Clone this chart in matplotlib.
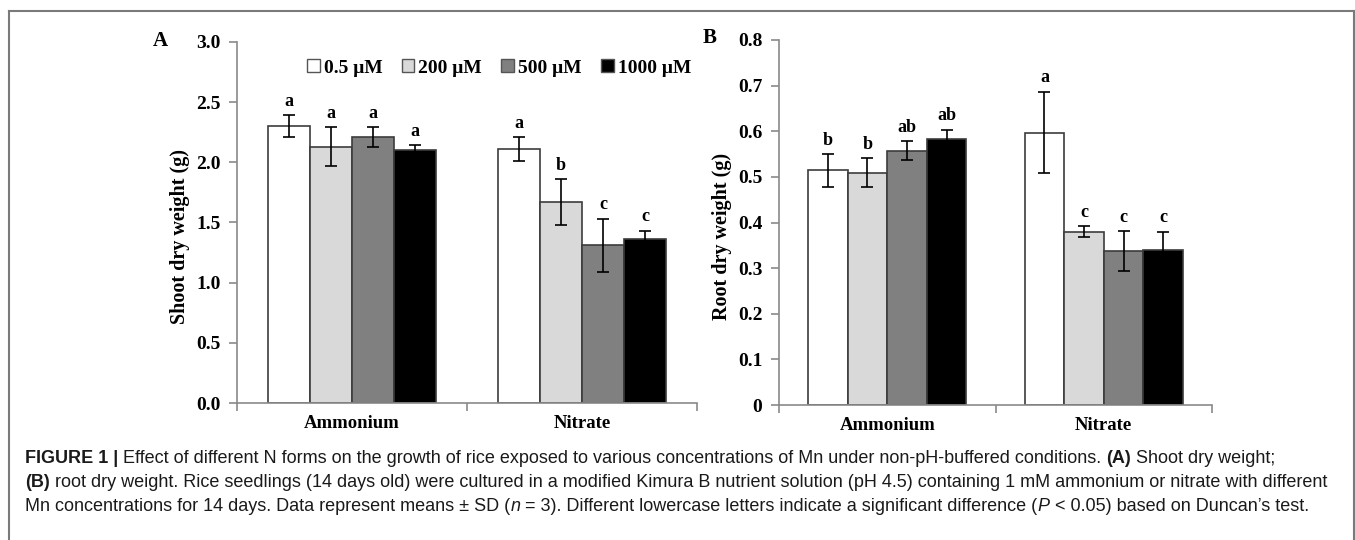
import matplotlib
matplotlib.use("Agg")
import matplotlib.pyplot as plt
from matplotlib.patches import Patch
from matplotlib.lines import Line2D
from matplotlib.font_manager import FontProperties
import numpy as np

W, H = 1355, 540
plt.rcParams.update({"font.family": "Liberation Serif", "font.weight": "bold",
                     "axes.linewidth": 1.2})

groups = ["Ammonium", "Nitrate"]
mn_levels = ["0.5 μM", "200 μM", "500 μM", "1000 μM"]
bar_colors = ["#ffffff", "#d9d9d9", "#808080", "#000000"]

# shoot dry weight (g), per Mn level, [ammonium, nitrate]
shoot_mean = [[2.30, 2.11], [2.13, 1.67], [2.21, 1.31], [2.10, 1.36]]
shoot_sd = [[0.09, 0.10], [0.16, 0.19], [0.08, 0.22], [0.04, 0.07]]
shoot_let = [["a", "a"], ["a", "b"], ["a", "c"], ["a", "c"]]

# root dry weight (g)
root_mean = [[0.514, 0.597], [0.509, 0.380], [0.557, 0.337], [0.583, 0.340]]
root_sd = [[0.036, 0.089], [0.032, 0.012], [0.021, 0.044], [0.020, 0.040]]
root_let = [["b", "a"], ["b", "c"], ["ab", "c"], ["ab", "c"]]

shoot_ticks = [0.0, 0.5, 1.0, 1.5, 2.0, 2.5, 3.0]
shoot_tick_lab = ["0.0", "0.5", "1.0", "1.5", "2.0", "2.5", "3.0"]
root_ticks = [0, 0.1, 0.2, 0.3, 0.4, 0.5, 0.6, 0.7, 0.8]
root_tick_lab = ["0", "0.1", "0.2", "0.3", "0.4", "0.5", "0.6", "0.7", "0.8"]

GRAY = "#8a8a8a"


def fx(x):
    return x / W


def fy(y):
    return 1 - y / H


def panel(fig, box, means, sds, lets, ticks, tick_lab, ylabel, lab_x):
    l, t, r, b = box
    ax = fig.add_axes([fx(l), fy(b), fx(r) - fx(l), fy(t) - fy(b)])
    x = np.arange(len(groups))
    w = 0.73 / 4
    for i in range(4):
        ax.bar(x + (i - 1.5) * w, means[i], w, color=bar_colors[i],
               edgecolor="#3c3c3c", lw=1.2, yerr=sds[i], zorder=2,
               error_kw=dict(ecolor="black", elinewidth=1.2, capsize=4, capthick=1.2))
        for xi, v, e, s in zip(x, means[i], sds[i], lets[i]):
            ax.annotate(s, (xi + (i - 1.5) * w, v + e), xytext=(0, 4),
                        textcoords="offset points", ha="center", va="bottom",
                        fontsize=13, fontweight="bold")
    ax.set_xlim(-0.5, 1.5)
    ax.set_ylim(ticks[0], ticks[-1])
    for s in ("top", "right"):
        ax.spines[s].set_visible(False)
    for s in ("left", "bottom"):
        ax.spines[s].set_color(GRAY)
    ax.set_yticks(ticks)
    ax.set_yticklabels(tick_lab)
    ax.tick_params(axis="y", length=6, width=1.2, color=GRAY, labelsize=14, pad=6)
    ax.set_xticks(x)
    ax.set_xticklabels(groups)
    ax.tick_params(axis="x", length=0, labelsize=13.5, pad=9)
    ax.set_xticks([-0.5, 0.5, 1.5], minor=True)
    ax.tick_params(axis="x", which="minor", length=6, width=1.2, color=GRAY)
    fig.text(fx(lab_x), fy(236), ylabel, rotation=90, ha="center", va="center",
             fontsize=14.5, fontweight="bold")
    return ax


def text_w(renderer, s, props):
    w1, _, _ = renderer.get_text_width_height_descent(s + "|", props, ismath=False)
    w2, _, _ = renderer.get_text_width_height_descent("|", props, ismath=False)
    return w1 - w2


fig = plt.figure(figsize=(W / 100, H / 100), dpi=100)

panel(fig, (237, 42, 697, 403), shoot_mean, shoot_sd, shoot_let,
      shoot_ticks, shoot_tick_lab, "Shoot dry weight (g)", 180)
panel(fig, (779, 40, 1212, 405), root_mean, root_sd, root_let,
      root_ticks, root_tick_lab, "Root dry weight (g)", 722)

fig.text(fx(160), fy(41), "A", ha="center", va="center", fontsize=15, fontweight="bold")
fig.text(fx(710), fy(38), "B", ha="center", va="center", fontsize=15, fontweight="bold")

handles = [Patch(facecolor=c, edgecolor="#555555", lw=1.0) for c in bar_colors]
fig.legend(handles, mn_levels, ncol=4, loc="center", bbox_to_anchor=(fx(499), fy(68)),
           frameon=False, fontsize=14, handlelength=0.65, handleheight=0.65,
           handletextpad=0.2, columnspacing=1.0, borderaxespad=0, borderpad=0)

# frame around figure
for xs, ys in (([9, 1354], [11, 11]), ([9, 9], [11, 540]), ([1354, 1354], [11, 540])):
    fig.add_artist(Line2D([fx(v) for v in xs], [fy(v) for v in ys],
                          transform=fig.transFigure, color="#7a7a7a", lw=1.5))

# caption
cap = [
    [("FIGURE 1 |", "bold"), (" Effect of different N forms on the growth of rice exposed to various "
     "concentrations of Mn under non-pH-buffered conditions. ", "normal"), ("(A)", "bold"),
     (" Shoot dry weight;", "normal")],
    [("(B)", "bold"), (" root dry weight. Rice seedlings (14 days old) were cultured in a modified "
     "Kimura B nutrient solution (pH 4.5) containing 1 mM ammonium or nitrate with different", "normal")],
    [("Mn concentrations for 14 days. Data represent means ± SD (", "normal"), ("n", "italic"),
     (" = 3). Different lowercase letters indicate a significant difference (", "normal"),
     ("P", "italic"), (" < 0.05) based on Duncan’s test.", "normal")],
]
renderer = fig.canvas.get_renderer()


def props(kind, size):
    return FontProperties(family="Liberation Sans", size=size,
                          weight="bold" if kind == "bold" else "normal",
                          style="italic" if kind == "italic" else "normal")


# size chosen so that the longest line spans the caption width
ref = sum(text_w(renderer, s, props(k, 10)) for s, k in cap[1])
cap_size = 10 * 1310 / ref

for row, y in zip(cap, [463, 487, 511]):
    x = 25
    for s, k in row:
        p = props(k, cap_size)
        fig.text(fx(x), fy(y), s, fontproperties=p, ha="left", va="baseline",
                 color="#1a1a1a")
        x += text_w(renderer, s, p)

fig.savefig("out.png", dpi=100)
